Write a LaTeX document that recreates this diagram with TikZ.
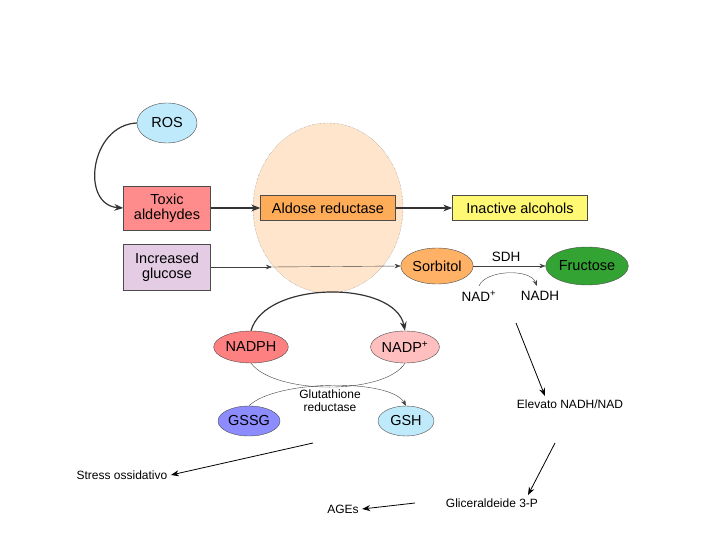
\documentclass[tikz,border=0pt]{standalone}
\usepackage{fontspec}
\setmainfont{Liberation Sans}
\usetikzlibrary{shapes,positioning,arrows.meta}
\tikzset{
  box/.style={rectangle,draw=black!70,minimum height=25pt,align=center,font=\fontsize{14.5}{15}\selectfont},
  oval/.style={ellipse,draw=black!70,inner sep=1pt,font=\fontsize{14.5}{15}\selectfont},
  thin arrow/.style={-{Stealth[length=6pt]},black!75},
  big arrow/.style={-{Stealth[length=9pt]},line width=1.2pt,black!80},
  note/.style={font=\fontsize{12}{13}\selectfont}
}
\begin{document}
\begin{tikzpicture}[x=1pt,y=-1pt]
        \useasboundingbox (0,0) rectangle (720,540);
        % enzyme cloud
        \node[ellipse,draw=black!50,densely dotted,fill=orange!20,minimum width=150pt,minimum height=170pt] (cloud) at (328,208) {};
        % boxes
        \node[box,minimum width=87pt,minimum height=44pt,fill=red!45] (tox) at (167,208) {Toxic\\aldehydes};
        \node[box,minimum width=87pt,minimum height=46pt,fill=violet!20] (glu) at (167,267) {Increased\\glucose};
        \node[box,minimum width=135pt,fill=orange!65] (ar) at (328,208) {Aldose reductase};
        \node[box,minimum width=135pt,fill=yellow!55] (alc) at (520,208) {Inactive alcohols};
        % ovals
        \node[oval,minimum width=60pt,minimum height=40pt,fill=cyan!25] (ros) at (167,123) {ROS};
        \node[oval,minimum width=66pt,minimum height=36pt,fill=orange!60] (sor) at (437,266) {Sorbitol};
        \node[oval,minimum width=76pt,minimum height=38pt,fill=green!55!black!80,text=black] (fru) at (587,266) {Fructose};
        \node[oval,minimum width=68pt,minimum height=32pt,fill=red!50] (nadph) at (251,347) {NADPH};
        \node[oval,minimum width=68pt,minimum height=32pt,fill=red!25] (nadp) at (405,347) {NADP\textsuperscript{+}};
        \node[oval,minimum width=56pt,minimum height=30pt,fill=blue!45] (gssg) at (249,421) {GSSG};
        \node[oval,minimum width=56pt,minimum height=30pt,fill=cyan!25] (gsh) at (406,421) {GSH};
        % small labels
        \node[font=\fontsize{13.5}{14}\selectfont] (sdh) at (506,257) {SDH};
        \node[font=\fontsize{13.5}{14}\selectfont] (nad) at (479,296) {NAD\textsuperscript{+}};
        \node[font=\fontsize{13.5}{14}\selectfont] (nadh) at (540,296) {NADH};
        \node[font=\fontsize{12}{13}\selectfont,align=center] (gr) at (330,401) {Glutathione\\reductase};
        \coordinate (nadtop) at (479,286);
        \coordinate (nadhtop) at (537,286);
        % notes
        \node[note] (elev) at (570,404) {Elevato NADH/NAD};
        \node[note] (stress) at (122,475) {Stress ossidativo};
        \node[note] (glic) at (492,503) {Gliceraldeide 3-P};
        \node[note] (ages) at (343,509) {AGEs};
        \coordinate (e1) at (516,323);
        \coordinate (g1) at (555,443);
        \coordinate (s1) at (313,443);
        % connectors
        \draw[big arrow] (ros.west) .. controls (90,125) and (80,205) .. (tox.west);
        \draw[big arrow] (tox) -- (ar);
        \draw[big arrow] (ar) -- (alc);
        \draw[thin arrow] (glu.east) -- (272,267);
        \draw[thin arrow] (272,267) -- (sor.west);
        \draw[thin arrow] (sor) -- (fru);
        \draw[thin arrow] (nadtop) .. controls (485,270) and (530,268) .. (nadhtop);
        \draw[big arrow] (nadph.north) .. controls (265,280) and (395,280) .. (nadp.north);
        \draw[black!75] (nadph.south) .. controls (275,395) and (385,395) .. (nadp.south);
        \draw[thin arrow] (gssg.north) .. controls (275,380) and (390,378) .. (gsh.north);
        \draw[-{Stealth[length=8pt]},thick] (e1) -- (elev.north -| 545,0);
        \draw[-{Stealth[length=8pt]},thick] (g1) -- (glic.north -| 528,0);
        \draw[-{Stealth[length=8pt]},thick] (glic.west -| 415,0) -- (ages.east);
        \draw[-{Stealth[length=8pt]},thick] (s1) -- (stress.east);
\end{tikzpicture}
\end{document}
